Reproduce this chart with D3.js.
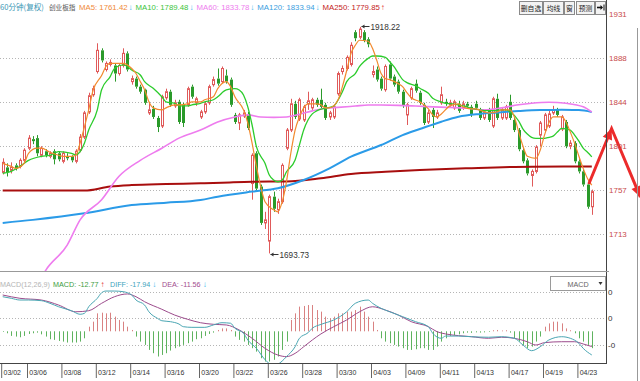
<!DOCTYPE html>
<html><head><meta charset="utf-8">
<script src="https://cdn.jsdelivr.net/npm/d3@7/dist/d3.min.js"></script>
<style>
html,body{margin:0;padding:0;background:#fff;}
svg{display:block;}
text{font-family:"Liberation Sans",Arial,sans-serif;}
.cjk{font-family:"Noto Sans CJK SC","Liberation Sans",sans-serif;}
</style></head><body>
<svg id="c" width="640" height="381"></svg>
<script>
// ---------------- DATA ----------------
const dateIdx=[0,6,14,22,30,38,46,54,62,70,78,86,94,102,110,118,126,134];
const dateLabels=["03/02","03/06","03/08","03/12","03/14","03/16","03/20","03/22","03/26","03/28","03/30","04/03","04/09","04/11","04/13","04/17","04/19","04/23"];
const priceTicks=[1931,1887.4,1843.8,1800.2,1756.6,1713];
const priceTickLabels=["1931","1888","1844","1801","1757","1713"];
const macdTicks=[30,10,-10];
const macdTickLabels=["0","0","-0"];

const opens=[
1774,1779,1776,1781,1780,1786,1798,1807,1808,1791,
1795,1790,1795,1793,1785,1790,1790,1785,1796,1809,
1834,1851,1874,1895,1876,1881,1880,1872,1880,1892,
1864,1867,1859,1856,1833,1837,1828,1820,1848,1854,
1840,1844,1841,1841,1859,1843,1829,1834,1843,1861,
1867,1864,1870,1866,1831,1823,1830,1831,1763,1793,
1760,1724,1706,1750,1737,1745,1798,1816,1842,1827,
1826,1842,1838,1846,1846,1841,1829,1829,1852,1874,
1877,1881,1913,1908,1913,1906,1871,1876,1867,1856,
1881,1869,1864,1854,1831,1848,1862,1853,1841,1824,
1836,1829,1843,1844,1841,1838,1842,1838,1842,1839,
1842,1836,1828,1836,1820,1847,1828,1828,1844,1826,
1816,1796,1786,1771,1775,1811,1816,1820,1833,1836,
1817,1824,1800,1803,1785,1775,1762,1740];
const highs=[
1788,1783,1784,1783,1788,1798,1811,1810,1811,1800,
1797,1795,1797,1795,1795,1793,1791,1797,1812,1835,
1853,1860,1902,1897,1884,1886,1882,1882,1897,1894,
1870,1869,1861,1857,1844,1840,1830,1851,1857,1856,
1846,1846,1843,1859,1861,1849,1836,1844,1861,1869,
1877,1879,1876,1868,1833,1833,1836,1834,1793,1795,
1762,1735,1752,1755,1748,1783,1818,1847,1845,1848,
1841,1854,1848,1848,1857,1843,1835,1841,1874,1880,
1890,1903,1915,1918.22,1915,1908,1880,1879,1869,1881,
1884,1871,1866,1856,1843,1859,1866,1855,1843,1836,
1838,1836,1859,1847,1846,1846,1845,1845,1844,1841,
1845,1838,1836,1838,1849,1852,1838,1841,1851,1828,
1818,1798,1788,1777,1801,1825,1833,1835,1840,1838,
1831,1826,1806,1805,1787,1777,1764,1757];
const lows=[
1772,1770,1773,1776,1778,1784,1796,1802,1790,1789,
1789,1788,1782,1785,1783,1786,1784,1783,1794,1807,
1832,1849,1872,1883,1874,1879,1864,1870,1878,1874,
1861,1857,1852,1841,1831,1827,1814,1818,1846,1839,
1838,1822,1819,1839,1847,1840,1827,1832,1841,1859,
1860,1862,1862,1839,1822,1816,1828,1816,1747,1756,
1722,1718,1693.73,1735,1733,1743,1796,1814,1827,1825,
1824,1836,1836,1839,1837,1826,1826,1827,1850,1871,
1875,1879,1904,1906,1903,1898,1868,1864,1855,1854,
1865,1859,1852,1838,1821,1846,1853,1841,1821,1822,
1818,1827,1841,1840,1839,1836,1833,1836,1838,1829,
1836,1826,1826,1824,1818,1826,1826,1826,1826,1814,
1795,1783,1771,1760,1773,1800,1814,1818,1831,1829,
1815,1798,1797,1783,1773,1760,1738,1732];
const closes=[
1784,1774,1779,1778,1786,1796,1808,1805,1793,1798,
1791,1793,1787,1787,1793,1788,1786,1795,1809,1833,
1850,1857,1895,1885,1882,1883,1872,1880,1892,1876,
1867,1859,1854,1843,1836,1829,1819,1849,1854,1841,
1843,1824,1823,1857,1849,1847,1834,1842,1859,1866,
1862,1877,1864,1841,1824,1831,1833,1818,1791,1758,
1724,1727,1750,1738,1745,1781,1816,1842,1829,1846,
1839,1845,1846,1841,1839,1828,1833,1839,1872,1877,
1888,1900,1907,1916,1905,1901,1874,1866,1857,1879,
1867,1861,1854,1840,1841,1857,1855,1843,1823,1833,
1829,1833,1851,1842,1843,1844,1835,1842,1840,1831,
1838,1828,1834,1826,1847,1828,1836,1839,1828,1816,
1797,1785,1773,1775,1799,1823,1831,1832,1836,1831,
1829,1800,1803,1785,1775,1762,1740,1755];

// moving averages: [bar index, value]
const ma5=[[0,1783],[2,1780],[3,1778],[5,1783],[6,1793],[8,1798],[9,1798],[11,1794],[13,1791],[14,1790],[16,1790],[17,1791],[18,1803],[19,1819],[20,1836],[21,1855],[23,1870],[24,1879],[25,1882],[27,1882],[28,1882],[30,1877],[31,1872],[32,1864],[33,1856],[34,1844],[35,1838],[37,1836],[38,1838],[40,1841],[41,1841],[43,1842],[44,1844],[46,1844],[47,1846],[49,1849],[50,1857],[52,1864],[53,1859],[54,1849],[56,1836],[57,1823],[58,1803],[59,1780],[60,1760],[61,1745],[63,1737],[64,1735],[65,1745],[66,1765],[67,1793],[68,1816],[69,1829],[70,1838],[71,1842],[73,1842],[74,1841],[75,1838],[76,1838],[78,1846],[79,1859],[80,1875],[81,1892],[82,1900],[83,1905],[85,1904],[86,1897],[87,1885],[88,1872],[89,1867],[90,1866],[92,1862],[93,1859],[94,1853],[95,1848],[97,1844],[99,1837],[100,1831],[101,1829],[102,1832],[104,1840],[106,1842],[107,1839],[109,1837],[110,1837],[112,1834],[113,1833],[115,1834],[116,1836],[118,1836],[119,1829],[120,1814],[121,1800],[122,1790],[124,1788],[125,1796],[126,1811],[127,1823],[128,1829],[130,1829],[131,1824],[132,1814],[133,1803],[134,1790],[135,1778],[136,1768],[137,1761.42]];
const ma10=[[0,1773],[2,1775],[4,1780],[6,1786],[9,1790],[11,1791],[13,1794.6],[16,1793],[17,1791.3],[18,1794.6],[19,1803],[20,1816],[22,1836],[23,1856],[25,1869],[26,1877],[28,1880.5],[29,1879],[30,1875.5],[32,1870.6],[33,1864],[35,1857.4],[37,1849],[38,1844],[40,1842.5],[41,1840],[43,1840],[44,1841],[46,1842.5],[47,1844],[49,1846],[50,1849],[52,1855.7],[54,1857],[55,1855.7],[56,1850.7],[57,1839],[58,1821],[59,1799.5],[61,1783],[62,1771.5],[63,1766.5],[64,1764.8],[65,1766.5],[66,1774.7],[68,1786.3],[69,1801],[70,1816],[71,1826],[72,1832],[73,1835],[75,1837.6],[76,1838.5],[77,1839.8],[78,1845.8],[79,1854],[80,1864],[82,1872],[83,1879],[84,1883.7],[85,1887],[86,1889.4],[87,1889.4],[89,1888],[90,1883.7],[91,1878.8],[92,1872.2],[93,1866],[94,1863],[96,1860],[97,1857.4],[99,1852.4],[100,1847.5],[102,1844],[103,1842.5],[105,1841.8],[106,1840.8],[108,1839],[109,1837.6],[111,1836],[112,1835.2],[114,1835.2],[116,1836],[117,1836],[118,1834.2],[120,1825],[121,1817],[122,1812],[123,1808.8],[124,1807.8],[126,1807.8],[127,1808.8],[128,1810],[129,1814],[130,1817.7],[132,1816],[133,1811],[134,1805],[135,1798],[136,1794],[137,1789.48]];
const ma60=[[8,1662],[10,1677],[15,1702],[18,1727],[23,1747],[27,1770],[32,1786],[37,1798],[41,1808],[46,1816],[50,1824],[54,1829],[57,1831],[60,1829],[63,1828.6],[66,1829],[69,1831.6],[72,1835],[75,1837.6],[78,1838.5],[82,1839.8],[85,1840.8],[88,1840.8],[92,1840.5],[96,1839.8],[100,1839],[104,1838.5],[108,1837.6],[112,1836],[116,1838],[120,1841],[123,1842.5],[127,1843.5],[131,1842.5],[135,1839],[137,1833.78]];
const ma120=[[0,1724],[7,1727],[19,1733.5],[30,1741.7],[38,1744],[46,1746.7],[50,1750],[58,1755],[64,1758.3],[70,1766.5],[76,1778],[81,1789.6],[88,1801.2],[93,1811],[97,1817],[102,1824.3],[106,1829.2],[111,1832],[116,1833.6],[120,1834.9],[125,1835.9],[130,1836],[134,1835.9],[137,1833.94]];
const ma250=[[0,1756],[19,1756],[25,1760],[30,1761.5],[38,1762.5],[46,1763.2],[51,1763.8],[58,1764.8],[66,1765],[74,1768.2],[81,1772.5],[89,1774.7],[97,1776.4],[108,1778.1],[123,1779.7],[137,1779.85]];

// MACD
const macdHist=[
-0.5,-1.5,-3.5,-4,-4.5,-3.5,-2,-1.5,-1,-2.3,
-4,-6,-6.5,-7.3,-7.8,-8.5,-8.5,-8.5,-7.8,-5.3,
3.5,7.3,13.6,14.1,13.6,14.1,11.1,8.6,7.3,3.5,
1,-4,-7.8,-10.3,-14.1,-16.6,-19.1,-17.9,-16.6,-14.6,
-12.8,-11.6,-10.3,-9,-7.8,-6,-5.3,-3.5,-2,-1,
1,2.2,2.2,1,-4,-6.5,-7.8,-10.3,-12.8,-15.4,
-20.4,-22.9,-22.9,-21.6,-19.1,-14.1,-7.8,8.6,13.6,18.7,
19.2,19.9,19.9,16.1,14.9,11.1,9.8,11.1,13.6,13.6,
14.9,14.9,16.1,18.7,14.9,11.1,7.3,1,-5.3,-7.8,
-9,-10.3,-11.6,-12.8,-14.1,-14.1,-13.6,-12.8,-12.8,-14.1,
-14.1,-11.6,-7.8,-5.3,-3.5,-2.8,-2.3,-1.5,-1,-1.2,
-0.8,-1,-0.8,-0.5,0.8,1,0.6,0.8,-1,-5.3,
-7.8,-10.3,-12.8,-11.6,-7.8,-4,3.5,6,7.3,7.3,
6,2.2,0.8,-1.5,-5.3,-7.8,-10.3,-12.77];
const diff=[[0,26.2],[2,25],[4,23.7],[6,23.7],[9,23.2],[11,21.2],[13,18.6],[16,15.6],[18,12.9],[19,13.6],[20,18.6],[22,25],[23,29.2],[24,30.5],[26,30.5],[28,30],[30,27.5],[31,23.7],[33,19.9],[34,14.8],[36,9.8],[37,8],[39,7.3],[41,5.5],[42,3.5],[44,3],[47,3],[49,4.8],[51,6.5],[53,6.1],[54,2.3],[56,-1.5],[57,-6.6],[59,-12.9],[61,-21.5],[62,-24.5],[63,-26],[64,-25],[65,-22.5],[66,-19.2],[68,-11.7],[69,-5.3],[71,-1.1],[72,2.3],[74,5.2],[77,8.6],[80,14.8],[82,21.2],[85,23.7],[86,21.2],[88,17.4],[90,14.8],[93,11.1],[96,7.3],[99,3.5],[100,-1.5],[102,-5.3],[103,-3.6],[106,-3.6],[109,-4.1],[113,-4.5],[116,-4.1],[119,-5.3],[121,-10.4],[123,-14.7],[125,-11.7],[127,-6.6],[130,-4.1],[132,-5.3],[134,-9.1],[135,-12.9],[137,-17.94]];
const dea=[[0,27.5],[4,25],[9,23.7],[13,19.9],[17,14.8],[20,15.6],[23,21.2],[26,26.2],[29,28.3],[31,26.2],[33,22.4],[37,16.7],[40,12.3],[43,9.1],[46,6.5],[49,5.3],[52,4.8],[55,1],[58,-5.3],[61,-12.9],[64,-18],[66,-19.2],[68,-16.7],[70,-11.7],[72,-6.6],[74,-2],[77,3.5],[80,8.6],[83,14.8],[86,18.6],[89,16.1],[92,12.3],[95,7.3],[99,3.5],[101,-0.3],[103,-2],[106,-3.3],[109,-4.1],[113,-5.3],[116,-4.5],[119,-5.3],[122,-7.9],[124,-10.4],[126,-8.6],[130,-7.9],[133,-7.9],[135,-9.6],[137,-11.56]];

// forecast arrow (drawn annotation) in data space
const forecast=[[136.3,1762.5],[141.6,1817.5],[148.3,1749.5]];

// ---------------- DRAW ----------------
const svg=d3.select("#c");
const AX=606;
const x=d3.scaleLinear().domain([0,137]).range([2.7,2.7+4.3*137]);
const y=d3.scaleLinear().domain([1713,1931]).range([234,14]);
const ym=d3.scaleLinear().domain([-10,30]).range([344.5,291.7]);

const defs=svg.append("defs");
defs.append("clipPath").attr("id","cm").append("rect").attr("x",0).attr("y",16).attr("width",AX).attr("height",255);
defs.append("clipPath").attr("id","cd").append("rect").attr("x",0).attr("y",272).attr("width",AX).attr("height",91);

// grid lines
const grid=svg.append("g");
priceTicks.slice(1).forEach(v=>{
  grid.append("line").attr("x1",0).attr("x2",AX+3).attr("y1",Math.round(y(v))+0.5).attr("y2",Math.round(y(v))+0.5)
    .attr("stroke","#b5b5b5").attr("stroke-dasharray","1,2");
});
macdTicks.forEach(v=>{
  grid.append("line").attr("x1",0).attr("x2",AX+3).attr("y1",Math.round(ym(v))+0.5).attr("y2",Math.round(ym(v))+0.5)
    .attr("stroke","#b5b5b5").attr("stroke-dasharray","1,2");
});

// candles
const gC=svg.append("g").attr("clip-path","url(#cm)");
closes.forEach((c,i)=>{
  const o=opens[i],h=highs[i],l=lows[i];
  const up=c>=o;
  const px=Math.round(x(i));
  const cx=px+0.5;
  const top=y(Math.max(o,c)), bot=y(Math.min(o,c));
  const col=up?"#e05a5a":"#2a9a2a";
  gC.append("line").attr("x1",cx).attr("x2",cx).attr("y1",y(h)).attr("y2",top).attr("stroke",col);
  gC.append("line").attr("x1",cx).attr("x2",cx).attr("y1",bot).attr("y2",y(l)).attr("stroke",col);
  if(up){
    gC.append("rect").attr("x",px-0.5).attr("y",top).attr("width",2).attr("height",Math.max(bot-top,1))
      .attr("fill","#fff").attr("stroke",col);
  }else{
    gC.append("rect").attr("x",px-1).attr("y",top).attr("width",3).attr("height",Math.max(bot-top,1))
      .attr("fill",col);
  }
});

// moving averages
const line=d3.line().x(d=>x(d[0])).y(d=>y(d[1])).curve(d3.curveMonotoneX);
const gL=svg.append("g").attr("clip-path","url(#cm)").attr("fill","none");
gL.append("path").attr("d",line(ma250)).attr("stroke","#a80e0e").attr("stroke-width",2);
gL.append("path").attr("d",line(ma120)).attr("stroke","#2b9be8").attr("stroke-width",2);
gL.append("path").attr("d",line(ma60)).attr("stroke","#ee7cee").attr("stroke-width",1.6);
gL.append("path").attr("d",line(ma10)).attr("stroke","#2ccc2c").attr("stroke-width",1.3);
gL.append("path").attr("d",line(ma5)).attr("stroke","#f28a2e").attr("stroke-width",1.2);

// high / low markers
function marker(i,v,dy){
  const cx=Math.round(x(i))+1.5, yy=Math.round(y(v))+0.5+dy;
  const g=svg.append("g");
  g.append("line").attr("x1",cx).attr("x2",cx+8).attr("y1",yy).attr("y2",yy).attr("stroke","#333");
  g.append("path").attr("d",`M${cx},${yy}l3,-2v4z`).attr("fill","#333");
  g.append("text").attr("x",cx+9).attr("y",yy+3).attr("font-size",8.2).attr("fill","#333").text(v.toFixed(2));
}
const hiI=highs.indexOf(d3.max(highs)), loI=lows.indexOf(d3.min(lows));
marker(hiI,highs[hiI],-1);
marker(loI,lows[loI],1);

// MACD histogram + lines
const gM=svg.append("g").attr("clip-path","url(#cd)");
macdHist.forEach((v,i)=>{
  const cx=Math.round(x(i))+0.5;
  gM.append("line").attr("x1",cx).attr("x2",cx).attr("y1",ym(0)).attr("y2",ym(v))
    .attr("stroke",v>=0?"#d98282":"#5fb35f");
});
const lm=d3.line().x(d=>x(d[0])).y(d=>ym(d[1])).curve(d3.curveMonotoneX);
gM.append("path").attr("d",lm(dea)).attr("fill","none").attr("stroke","#9c4b8c").attr("stroke-width",1);
gM.append("path").attr("d",lm(diff)).attr("fill","none").attr("stroke","#4aa6b3").attr("stroke-width",1);

// forecast arrow
const fx=d=>x(d[0]), fy=d=>y(d[1]);
const gA=svg.append("g");
gA.append("path").attr("d",d3.line().x(fx).y(fy)(forecast)).attr("fill","none")
  .attr("stroke","#ec2b2b").attr("stroke-width",3).attr("stroke-linejoin","miter");
function head(a,b){
  const x1=fx(a),y1=fy(a),x2=fx(b),y2=fy(b);
  const ang=Math.atan2(y2-y1,x2-x1);
  const L=11,Wd=5;
  const bx=x2-L*Math.cos(ang), by=y2-L*Math.sin(ang);
  const p=[[x2,y2],[bx+Wd*Math.sin(ang),by-Wd*Math.cos(ang)],[bx-Wd*Math.sin(ang),by+Wd*Math.cos(ang)]];
  gA.append("path").attr("d","M"+p.map(q=>q.join(",")).join("L")+"Z").attr("fill","#ec2b2b");
}
head(forecast[0],forecast[1]);
head(forecast[1],forecast[2]);

// frame lines
svg.append("line").attr("x1",AX+0.5).attr("x2",AX+0.5).attr("y1",0).attr("y2",363).attr("stroke","#444");
svg.append("line").attr("x1",0).attr("x2",AX+3).attr("y1",271.5).attr("y2",271.5).attr("stroke","#999");
svg.append("line").attr("x1",0).attr("x2",AX+1).attr("y1",363.5).attr("y2",363.5).attr("stroke","#444");
svg.append("line").attr("x1",637.5).attr("x2",637.5).attr("y1",28).attr("y2",381).attr("stroke","#999");

// right axes
const axR=svg.append("g").attr("transform",`translate(${AX},0)`)
  .call(d3.axisRight(y).tickValues(priceTicks).tickFormat((d,i)=>priceTickLabels[i]).tickSize(0).tickPadding(3));
axR.select(".domain").remove();
axR.selectAll("text").attr("font-size",8).attr("fill","#c84a4a").attr("font-family","Liberation Sans, Arial, sans-serif");
const axM=svg.append("g").attr("transform",`translate(${AX},0)`)
  .call(d3.axisRight(ym).tickValues(macdTicks).tickFormat((d,i)=>macdTickLabels[i]).tickSize(0).tickPadding(2));
axM.select(".domain").remove();
axM.selectAll("text").attr("font-size",8).attr("fill","#333").attr("font-family","Liberation Sans, Arial, sans-serif");

// date axis
const axB=svg.append("g").attr("transform","translate(0,364)")
  .call(d3.axisBottom(x).tickValues(dateIdx).tickFormat((d,i)=>dateLabels[i]).tickSize(0));
axB.select(".domain").remove();
axB.selectAll(".tick text").attr("text-anchor","start").attr("x",0.3).attr("y",5)
  .attr("font-size",8).attr("fill","#333").attr("font-family","Liberation Sans, Arial, sans-serif")
  .attr("textLength",17.5).attr("lengthAdjust","spacingAndGlyphs");
axB.selectAll(".tick").append("line").attr("x1",-1.5).attr("x2",-1.5).attr("y1",0).attr("y2",14).attr("stroke","#666");

// top legend (laid out left to right)
const lg=svg.append("g").attr("font-size",7.8);
function lt(xp,yp,txt,col,cls,fs){
  const t=lg.append("text").attr("x",xp).attr("y",yp).attr("fill",col).text(txt);
  if(cls) t.attr("class",cls);
  if(fs) t.attr("font-size",fs);
  return t;
}
lt(0,10,"60分钟(复权)","#3c97b5","cjk",7.6);
lt(49,10,"创业板指","#555","cjk",6.6);
const items=[
  ["MA5: 1761.42","#f08a38","↓","#3ab4ea"],
  ["MA10: 1789.48","#3cc43c","↓","#3ab4ea"],
  ["MA60: 1833.78","#ee7cee","↓","#3ab4ea"],
  ["MA120: 1833.94","#3a9ee0","↓","#3ab4ea"],
  ["MA250: 1779.85","#c41a1a","↑","#e22a2a"]];
let cur=79;
items.forEach(it=>{
  const t=lt(cur,10,it[0],it[1]);
  const w=t.node().getComputedTextLength();
  const a=lt(cur+w+1,10,it[2],it[3],null,8).attr("font-family","DejaVu Sans, sans-serif");
  cur=cur+w+1+a.node().getComputedTextLength()+3;
});

// buttons
const btns=[[519,542,"删自选"],[543,563,"均线"],[564,574,"窗"],[576,594,"预测"]];
const gb=svg.append("g");
btns.forEach(b=>{
  gb.append("rect").attr("x",b[0]+0.5).attr("y",1.5).attr("width",b[1]-b[0]).attr("height",13)
    .attr("fill","#f3f3f3").attr("stroke","#8a8a8a");
  gb.append("text").attr("class","cjk").attr("x",(b[0]+b[1])/2+0.5).attr("y",11).attr("text-anchor","middle")
    .attr("font-size",6.8).attr("fill","#222").text(b[2]);
});
gb.append("rect").attr("x",595.5).attr("y",1.5).attr("width",10).attr("height",13).attr("fill","#f3f3f3").attr("stroke","#8a8a8a");
gb.append("path").attr("d","M597,7.5h4.5").attr("stroke","#111").attr("stroke-width",1.6);
gb.append("path").attr("d","M600.5,5l2.5,2.5l-2.5,2.5z").attr("fill","#111");
gb.append("path").attr("d","M604,4.5v6").attr("stroke","#111").attr("stroke-width",1);

// MACD legend
const ml=svg.append("g").attr("font-size",7.2);
const mItems=[[0,"MACD(12,26,9)","#b4b4b4"],[53,"MACD: -12.77","#3c9c3c"],[110,"DIFF: -17.94","#40a4bc"],[162,"DEA: -11.56","#a24c8e"]];
const mArrows=[null,["↑","#e22a2a"],["↓","#3ab4ea"],["↓","#3ab4ea"]];
mItems.forEach((it,k)=>{
  const t=ml.append("text").attr("x",it[0]).attr("y",287).attr("fill",it[2]).text(it[1]);
  if(mArrows[k]){
    const w=t.node().getComputedTextLength();
    ml.append("text").attr("x",it[0]+w+2).attr("y",287).attr("fill",mArrows[k][1]).attr("font-size",8)
      .attr("font-family","DejaVu Sans, sans-serif").text(mArrows[k][0]);
  }
});
// MACD selector box
svg.append("rect").attr("x",550.5).attr("y",276.5).attr("width",55).attr("height",14).attr("fill","#fff").attr("stroke","#9a9a9a");
svg.append("text").attr("x",578).attr("y",286.5).attr("text-anchor","middle").attr("font-size",7.2).attr("fill","#666").text("MACD");
svg.append("path").attr("d","M598.5,282l4,0l-2,3z").attr("fill","#333");
</script>
</body></html>
